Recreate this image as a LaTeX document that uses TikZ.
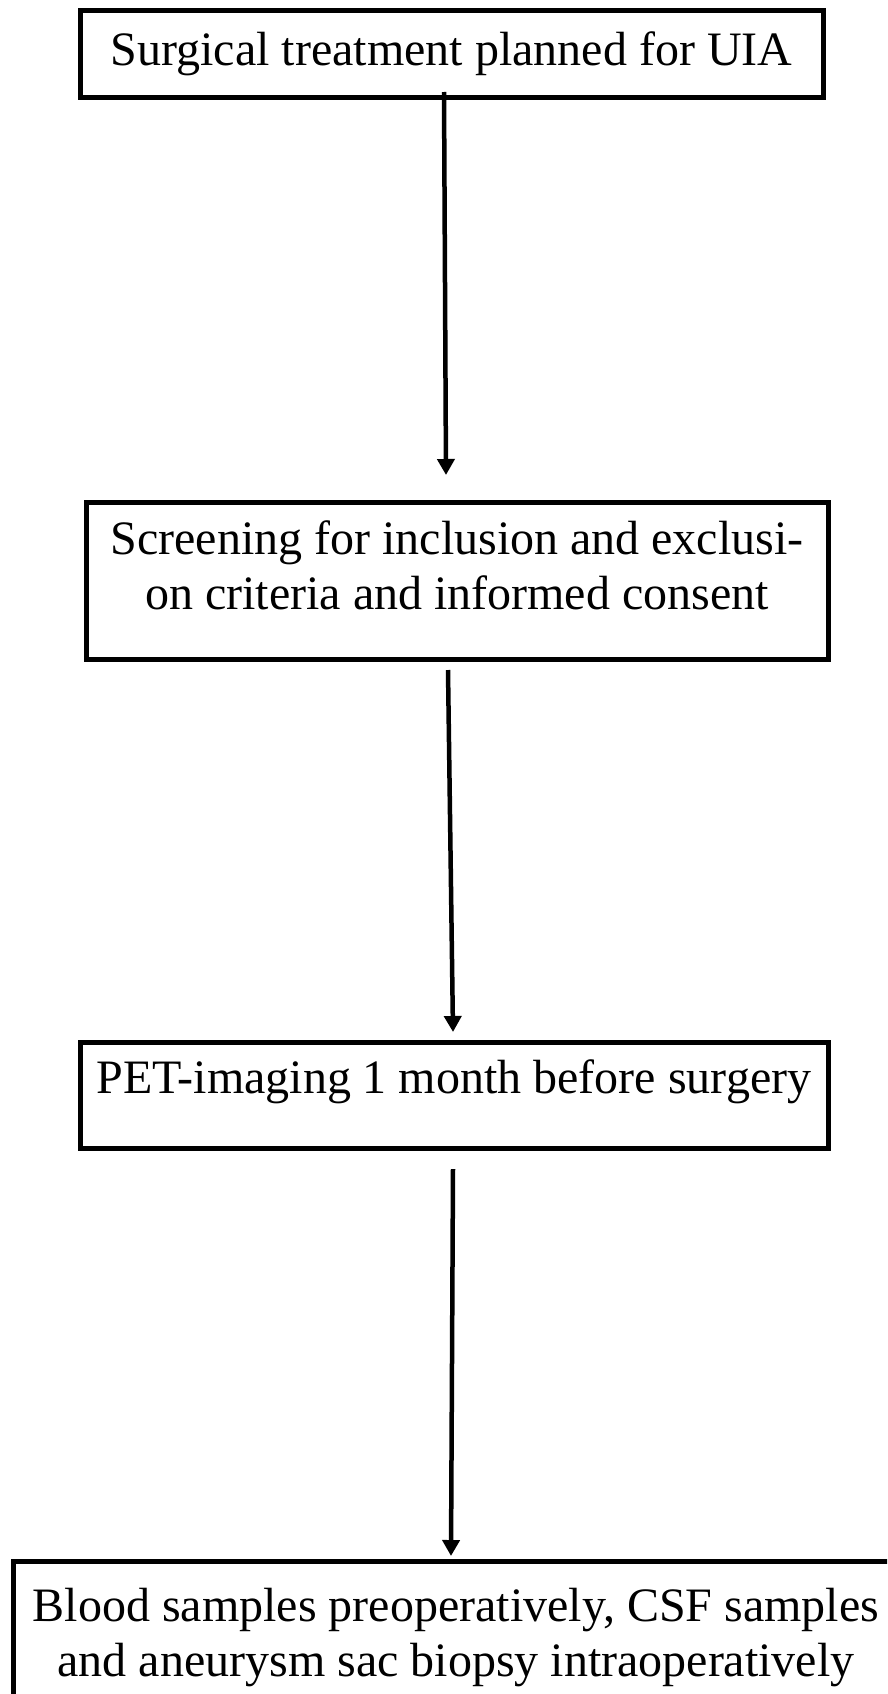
\documentclass[tikz,border=0pt]{standalone}
\usepackage{fontspec}
\setmainfont{Liberation Serif}
\usetikzlibrary{arrows.meta}
\usetikzlibrary{calc}

\tikzset{
	stepbox/.style={draw, line width=5pt, align=center, inner sep=0pt, outer sep=0pt,
		font=\fontsize{48pt}{55pt}\selectfont},
	flowarrow/.style={line width=4.5pt, -{Triangle[length=16pt,width=17pt]}}
}
% invisible rule to push the text up in its box
\newcommand{\lowstrut}[1]{\rule[-#1]{0pt}{#1}}

\begin{document}
\begin{tikzpicture}[x=1pt,y=-1pt]
	\useasboundingbox (0,0) rectangle (887,1694);
	\clip (0,0) rectangle (887,1694);
	\fill[white] (0,0) rectangle (887,1694);
	
	% boxes
	\node[stepbox, minimum width=743pt, minimum height=86pt] (plan) at (451.5,54)
		{Surgical treatment planned for UIA};
	\node[stepbox, minimum width=742pt, minimum height=157pt] (screen) at (457,580.5)
		{Screening for inclusion and exclusi-\\on criteria and informed consent\lowstrut{31pt}};
	\node[stepbox, minimum width=748pt, minimum height=106pt] (pet) at (454,1095)
		{PET-imaging 1 month before surgery\lowstrut{36pt}};
	% last box runs off the page
	\node[stepbox, anchor=north, inner ysep=27pt, minimum width=886pt] (samples) at (456,1561)
		{Blood samples preoperatively, CSF samples\\and aneurysm sac biopsy intraoperatively};
	
	% arrows
	\draw[flowarrow] ($(plan.south)+(-7.5,-5)$) -- ($(screen.north)+(-11,-27)$);
	\draw[flowarrow] ($(screen.south)+(-9,11)$) -- ($(pet.north)+(-1,-10)$);
	\draw[flowarrow] ($(pet.south)+(-1,21)$) -- ($(samples.north)+(-5,-5)$);
\end{tikzpicture}
\end{document}
